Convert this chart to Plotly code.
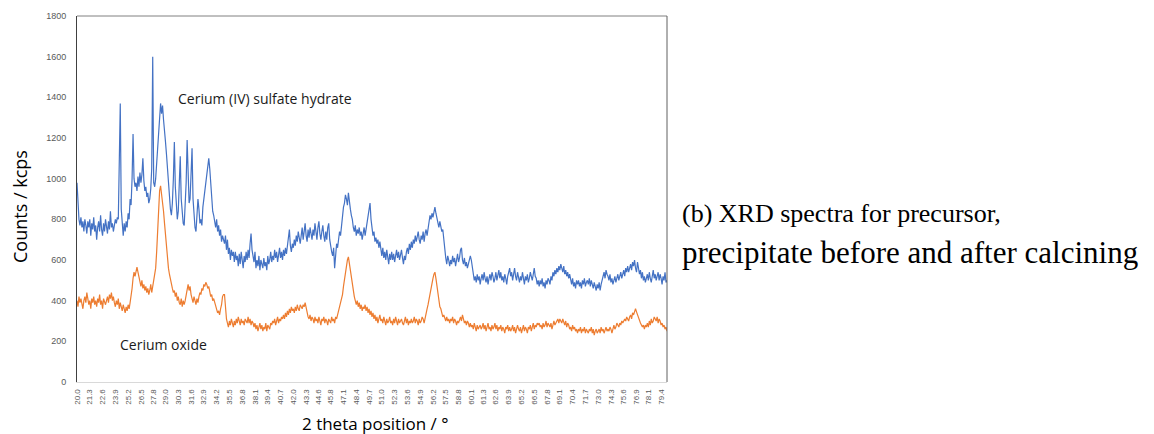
import plotly.graph_objects as go

# 2-theta sampling (degrees): start and step of the recorded scan
theta_start = 20.0
theta_step = 0.1

# Cerium (IV) sulfate hydrate (blue), counts, one row per degree (20.0 .. 80.0)
sulfate_counts = [
    980, 880, 800, 770, 810, 760, 790, 740, 800, 770,
    730, 790, 760, 800, 720, 780, 750, 810, 740, 770,
    700, 760, 790, 740, 820, 750, 720, 780, 740, 800,
    760, 730, 790, 750, 840, 760, 780, 740, 770, 800,
    780, 810, 800, 1060, 1370, 850, 760, 720, 780, 740,
    790, 760, 830, 800, 900, 870, 1000, 1220, 1000, 960,
    980, 940, 1010, 960, 1030, 980, 1020, 1100, 990, 940,
    960, 910, 930, 880, 900, 950, 1050, 1600, 980, 960,
    1000, 1080, 1180, 1260, 1340, 1370, 1320, 1360, 1290, 1250,
    1180, 1120, 1050, 980, 900, 850, 820, 880, 1000, 1180,
    960, 860, 800, 840, 950, 1110, 900, 820, 780, 770,
    850, 980, 1190, 950, 880, 900, 1020, 1150, 900, 800,
    760, 740, 820, 900, 850, 780, 800, 770, 860, 900,
    940, 980, 1040, 1080, 1100, 1050, 960, 880, 840, 820,
    790, 760, 800, 740, 770, 720, 750, 690, 720, 700,
    680, 720, 650, 700, 630, 660, 600, 650, 620, 640,
    590, 640, 600, 620, 570, 630, 580, 640, 600, 560,
    620, 590, 640, 600, 650, 610, 680, 730, 650, 620,
    590, 640, 560, 600, 570, 620, 550, 600, 580, 560,
    610, 570, 590, 550, 620, 580, 600, 640, 590, 620,
    600, 650, 610, 640, 590, 630, 660, 610, 640, 600,
    650, 620, 660, 630, 670, 700, 750, 670, 640, 680,
    660, 700, 670, 720, 690, 740, 700, 680, 720, 760,
    700, 740, 780, 720, 690, 750, 710, 760, 730, 700,
    750, 720, 780, 740, 700, 760, 790, 730, 700, 740,
    770, 720, 690, 740, 700, 760, 780, 700, 660, 640,
    620, 660, 560, 640, 680, 660, 700, 740, 720, 780,
    820, 860, 880, 920, 900, 870, 930, 880, 850, 820,
    800, 760, 740, 770, 720, 750, 730, 760, 720, 740,
    700, 730, 760, 720, 750, 780, 820, 850, 880, 800,
    760, 720, 740, 690, 710, 680, 700, 660, 690, 650,
    620, 660, 610, 640, 600, 650, 620, 580, 630, 600,
    640, 600, 630, 590, 620, 650, 610, 640, 600, 620,
    650, 610, 580, 620, 600, 640, 660, 630, 680, 650,
    690, 660, 700, 680, 720, 690, 710, 740, 700, 680,
    720, 700, 740, 690, 730, 750, 720, 760, 790, 820,
    800, 830, 810, 850, 860, 830, 800, 780, 760, 790,
    770, 740, 750, 700, 640, 610, 580, 620, 600, 570,
    600, 580, 620, 590, 610, 570, 600, 630, 590, 610,
    650, 660, 600, 580, 610, 570, 590, 560, 580, 600,
    620, 600, 560, 530, 500, 520, 490, 530, 500, 520,
    480, 510, 530, 500, 540, 510, 490, 520, 480, 510,
    530, 500, 540, 520, 490, 510, 540, 500, 520, 550,
    510, 540, 500, 520, 490, 530, 510, 480, 520, 540,
    560, 520, 540, 500, 530, 560, 520, 500, 540, 510,
    490, 520, 500, 540, 510, 480, 520, 500, 530, 490,
    510, 540, 520, 500, 530, 560, 520, 510, 480, 500,
    470, 500, 480, 510, 470, 490, 460, 500, 480, 510,
    500, 480, 520, 500, 540, 520, 550, 530, 560, 540,
    570, 550, 580, 560, 540, 570, 530, 550, 520, 540,
    510, 530, 500, 480, 510, 470, 490, 460, 500, 480,
    500, 470, 490, 460, 500, 480, 510, 470, 490, 500,
    480, 510, 470, 500, 480, 460, 490, 470, 450, 480,
    460, 490, 450, 480, 500, 520, 540, 510, 550, 530,
    520, 500, 530, 490, 510, 480, 500, 520, 490, 510,
    530, 500, 520, 540, 510, 530, 550, 520, 560, 540,
    570, 540, 560, 580, 550, 590, 570, 600, 560, 540,
    590, 560, 530, 550, 510, 540, 500, 520, 490, 510,
    530, 500, 540, 510, 490, 520, 550, 510, 530, 500,
    520, 540, 500, 530, 510, 480, 520, 500, 540, 490,
    500,
]

# Cerium oxide (orange), counts, one row per degree (20.0 .. 80.0)
oxide_counts = [
    400, 370, 420, 390, 410, 380, 360, 400, 420, 390,
    440, 410, 380, 400, 360, 410, 390, 420, 380, 400,
    370, 410, 390, 430, 380, 400, 360, 410, 390, 380,
    400, 420, 390, 430, 410, 440, 400, 420, 390, 370,
    400, 380, 410, 360, 390, 370, 350, 380, 360, 340,
    370, 350, 380, 360, 390, 420, 460, 510, 540, 520,
    550, 565, 540, 510, 490, 470, 500, 460, 480, 450,
    470, 440, 460, 430, 450, 480, 440, 470, 500, 530,
    560, 640, 740, 860, 940, 965, 930, 900, 840, 780,
    720, 660, 600, 560, 530, 500, 480, 460, 440, 450,
    420, 440, 400, 420, 390, 380, 410, 370, 400, 380,
    400, 430, 460, 480, 450, 470, 430, 410, 390, 420,
    400, 380, 410, 390, 420, 440, 430, 460, 450, 480,
    470, 490, 480, 460, 470, 440, 420, 430, 400, 410,
    390, 370, 360, 340, 350, 330, 360, 380, 420, 430,
    430, 360, 310, 290, 270, 300, 280, 310, 290, 270,
    300, 280, 310, 290, 320, 300, 280, 310, 290, 300,
    280, 310, 300, 290, 320, 290, 310, 280, 300, 290,
    270, 290, 260, 280, 250, 270, 290, 260, 280, 250,
    270, 260, 290, 250, 280, 270, 260, 290, 280, 300,
    290, 310, 280, 300, 320, 290, 310, 300, 320, 310,
    330, 310, 340, 320, 350, 330, 360, 340, 370, 350,
    360, 340, 370, 350, 380, 360, 350, 380, 370, 360,
    380, 370, 390, 360, 340, 320, 310, 330, 300, 320,
    310, 290, 320, 300, 310, 290, 320, 300, 280, 310,
    300, 320, 290, 310, 300, 280, 310, 300, 290, 320,
    300, 310, 290, 320, 310, 330, 350, 380, 400, 410,
    430, 470, 510, 550, 580, 600, 615, 580, 540, 500,
    470, 440, 420, 400, 380, 400, 370, 390, 360, 380,
    350, 370, 360, 380, 350, 370, 340, 360, 330, 350,
    320, 340, 310, 330, 300, 320, 290, 310, 330, 300,
    310, 290, 320, 300, 280, 310, 290, 300, 320, 290,
    300, 280, 310, 290, 320, 300, 280, 310, 290, 300,
    310, 290, 280, 300, 320, 290, 310, 280, 300, 290,
    310, 290, 300, 320, 290, 310, 300, 280, 310, 290,
    300, 320, 310, 290, 320, 340, 360, 380, 410, 440,
    460, 490, 510, 530, 540, 510, 470, 430, 400, 370,
    360, 340, 320, 330, 310, 300, 320, 300, 310, 290,
    310, 300, 320, 290, 310, 300, 280, 300, 290, 310,
    320, 300, 330, 310, 290, 300, 280, 300, 290, 270,
    290, 270, 280, 260, 290, 270, 250, 280, 260, 270,
    280, 260, 270, 290, 260, 280, 250, 270, 290, 260,
    270, 250, 280, 260, 270, 290, 260, 280, 250, 270,
    260, 280, 250, 270, 260, 240, 270, 260, 280, 250,
    270, 250, 260, 280, 250, 270, 240, 260, 280, 260,
    250, 270, 240, 260, 280, 250, 270, 260, 240, 270,
    260, 280, 250, 270, 290, 260, 280, 270, 290, 280,
    290, 270, 280, 260, 290, 270, 280, 300, 270, 290,
    280, 270, 290, 260, 280, 300, 280, 290, 300, 310,
    290, 310, 300, 290, 310, 290, 280, 300, 270, 290,
    280, 260, 270, 250, 280, 260, 270, 250, 260, 240,
    260, 250, 270, 240, 260, 250, 270, 240, 260, 250,
    240, 260, 250, 270, 240, 260, 230, 250, 260, 240,
    250, 260, 240, 270, 250, 260, 240, 260, 270, 250,
    260, 250, 270, 260, 240, 260, 280, 260, 270, 290,
    280, 270, 290, 280, 300, 290, 300, 310, 300, 320,
    310, 300, 320, 330, 310, 340, 330, 350, 360, 345,
    330, 310, 300, 290, 280, 270, 280, 260, 280, 270,
    290, 270, 300, 280, 310, 290, 300, 320, 310, 300,
    320, 290, 310, 300, 280, 290, 270, 280, 260, 270,
    250,
]

theta = [round(theta_start + i * theta_step, 2) for i in range(len(sulfate_counts))]

tick_labels = ["20.0", "21.3", "22.6", "23.9", "25.2", "26.5", "27.8", "29.0", "30.3",
               "31.6", "32.9", "34.2", "35.5", "36.8", "38.1", "39.4", "40.7", "42.0",
               "43.3", "44.6", "45.8", "47.1", "48.4", "49.7", "51.0", "52.3", "53.6",
               "54.9", "56.2", "57.5", "58.8", "60.1", "61.3", "62.6", "63.9", "65.2",
               "66.5", "67.8", "69.1", "70.4", "71.7", "73.0", "74.3", "75.6", "76.9",
               "78.1", "79.4"]
tick_vals = [float(t) for t in tick_labels]

fig = go.Figure()
fig.add_trace(go.Scatter(x=theta, y=sulfate_counts, mode="lines",
                         line=dict(color="#4472C4", width=1.2), name="Cerium (IV) sulfate hydrate"))
fig.add_trace(go.Scatter(x=theta, y=oxide_counts, mode="lines",
                         line=dict(color="#ED7D31", width=1.2), name="Cerium oxide"))

L, R, T, B = 77, 667, 16, 382
W, H = 1154, 434

def px(xp):
    return (xp - L) / (R - L)

def py(yp):
    return (B - yp) / (B - T)

tick_font = dict(family="Liberation Sans", size=8, color="#595959")

fig.update_layout(
    width=W, height=H,
    margin=dict(l=L, r=W - R, t=T, b=H - B, pad=0),
    paper_bgcolor="white", plot_bgcolor="white",
    showlegend=False,
    xaxis=dict(range=[20, 80], tickmode="array", tickvals=tick_vals, ticktext=tick_labels,
               tickangle=-90, tickfont=tick_font, showgrid=False, zeroline=False,
               showline=True, linecolor="#d9d9d9", linewidth=1,
               ticks="outside", ticklen=3, tickcolor="rgba(0,0,0,0)"),
    yaxis=dict(range=[0, 1800], tickmode="linear", tick0=0, dtick=200,
               tickfont=dict(family="Liberation Sans", size=9, color="#595959"),
               showgrid=False, zeroline=False, showline=True, linecolor="#404040", linewidth=1,
               ticks="outside", ticklen=8, tickcolor="rgba(0,0,0,0)"),
    shapes=[
        dict(type="line", xref="paper", yref="paper", x0=0, x1=1, y0=1, y1=1,
             line=dict(color="#808080", width=1)),
        dict(type="line", xref="paper", yref="paper", x0=1, x1=1, y0=0, y1=1,
             line=dict(color="#606060", width=1)),
    ],
)

annos = [
    dict(text="Cerium (IV) sulfate hydrate", x=30.05, y=1392, xref="x", yref="y",
         xanchor="left", yanchor="middle", showarrow=False,
         font=dict(family="Open Sans", size=14, color="#1a1a1a")),
    dict(text="Cerium oxide", x=24.2, y=182, xref="x", yref="y",
         xanchor="left", yanchor="middle", showarrow=False,
         font=dict(family="Open Sans", size=14, color="#1a1a1a")),
    dict(text="Counts / kcps", x=px(20), y=py(207), xref="paper", yref="paper",
         xanchor="center", yanchor="middle", textangle=-90, showarrow=False,
         font=dict(family="Open Sans", size=18, color="#000000")),
    dict(text="2 theta position / °", x=px(375), y=py(423), xref="paper", yref="paper",
         xanchor="center", yanchor="middle", showarrow=False,
         font=dict(family="Open Sans", size=17, color="#000000")),
    dict(text="(b) XRD spectra for precursor,", x=px(680), y=py(213), xref="paper", yref="paper",
         xanchor="left", yanchor="middle", showarrow=False,
         font=dict(family="Liberation Serif", size=26, color="#000000")),
    dict(text="precipitate before and after calcining", x=px(680), y=py(253), xref="paper",
         yref="paper", xanchor="left", yanchor="middle", showarrow=False,
         font=dict(family="Liberation Serif", size=31, color="#000000")),
]
fig.update_layout(annotations=annos)

fig.write_html("out.html", config={"displayModeBar": False},
               post_script="document.body.style.margin='0px';")
